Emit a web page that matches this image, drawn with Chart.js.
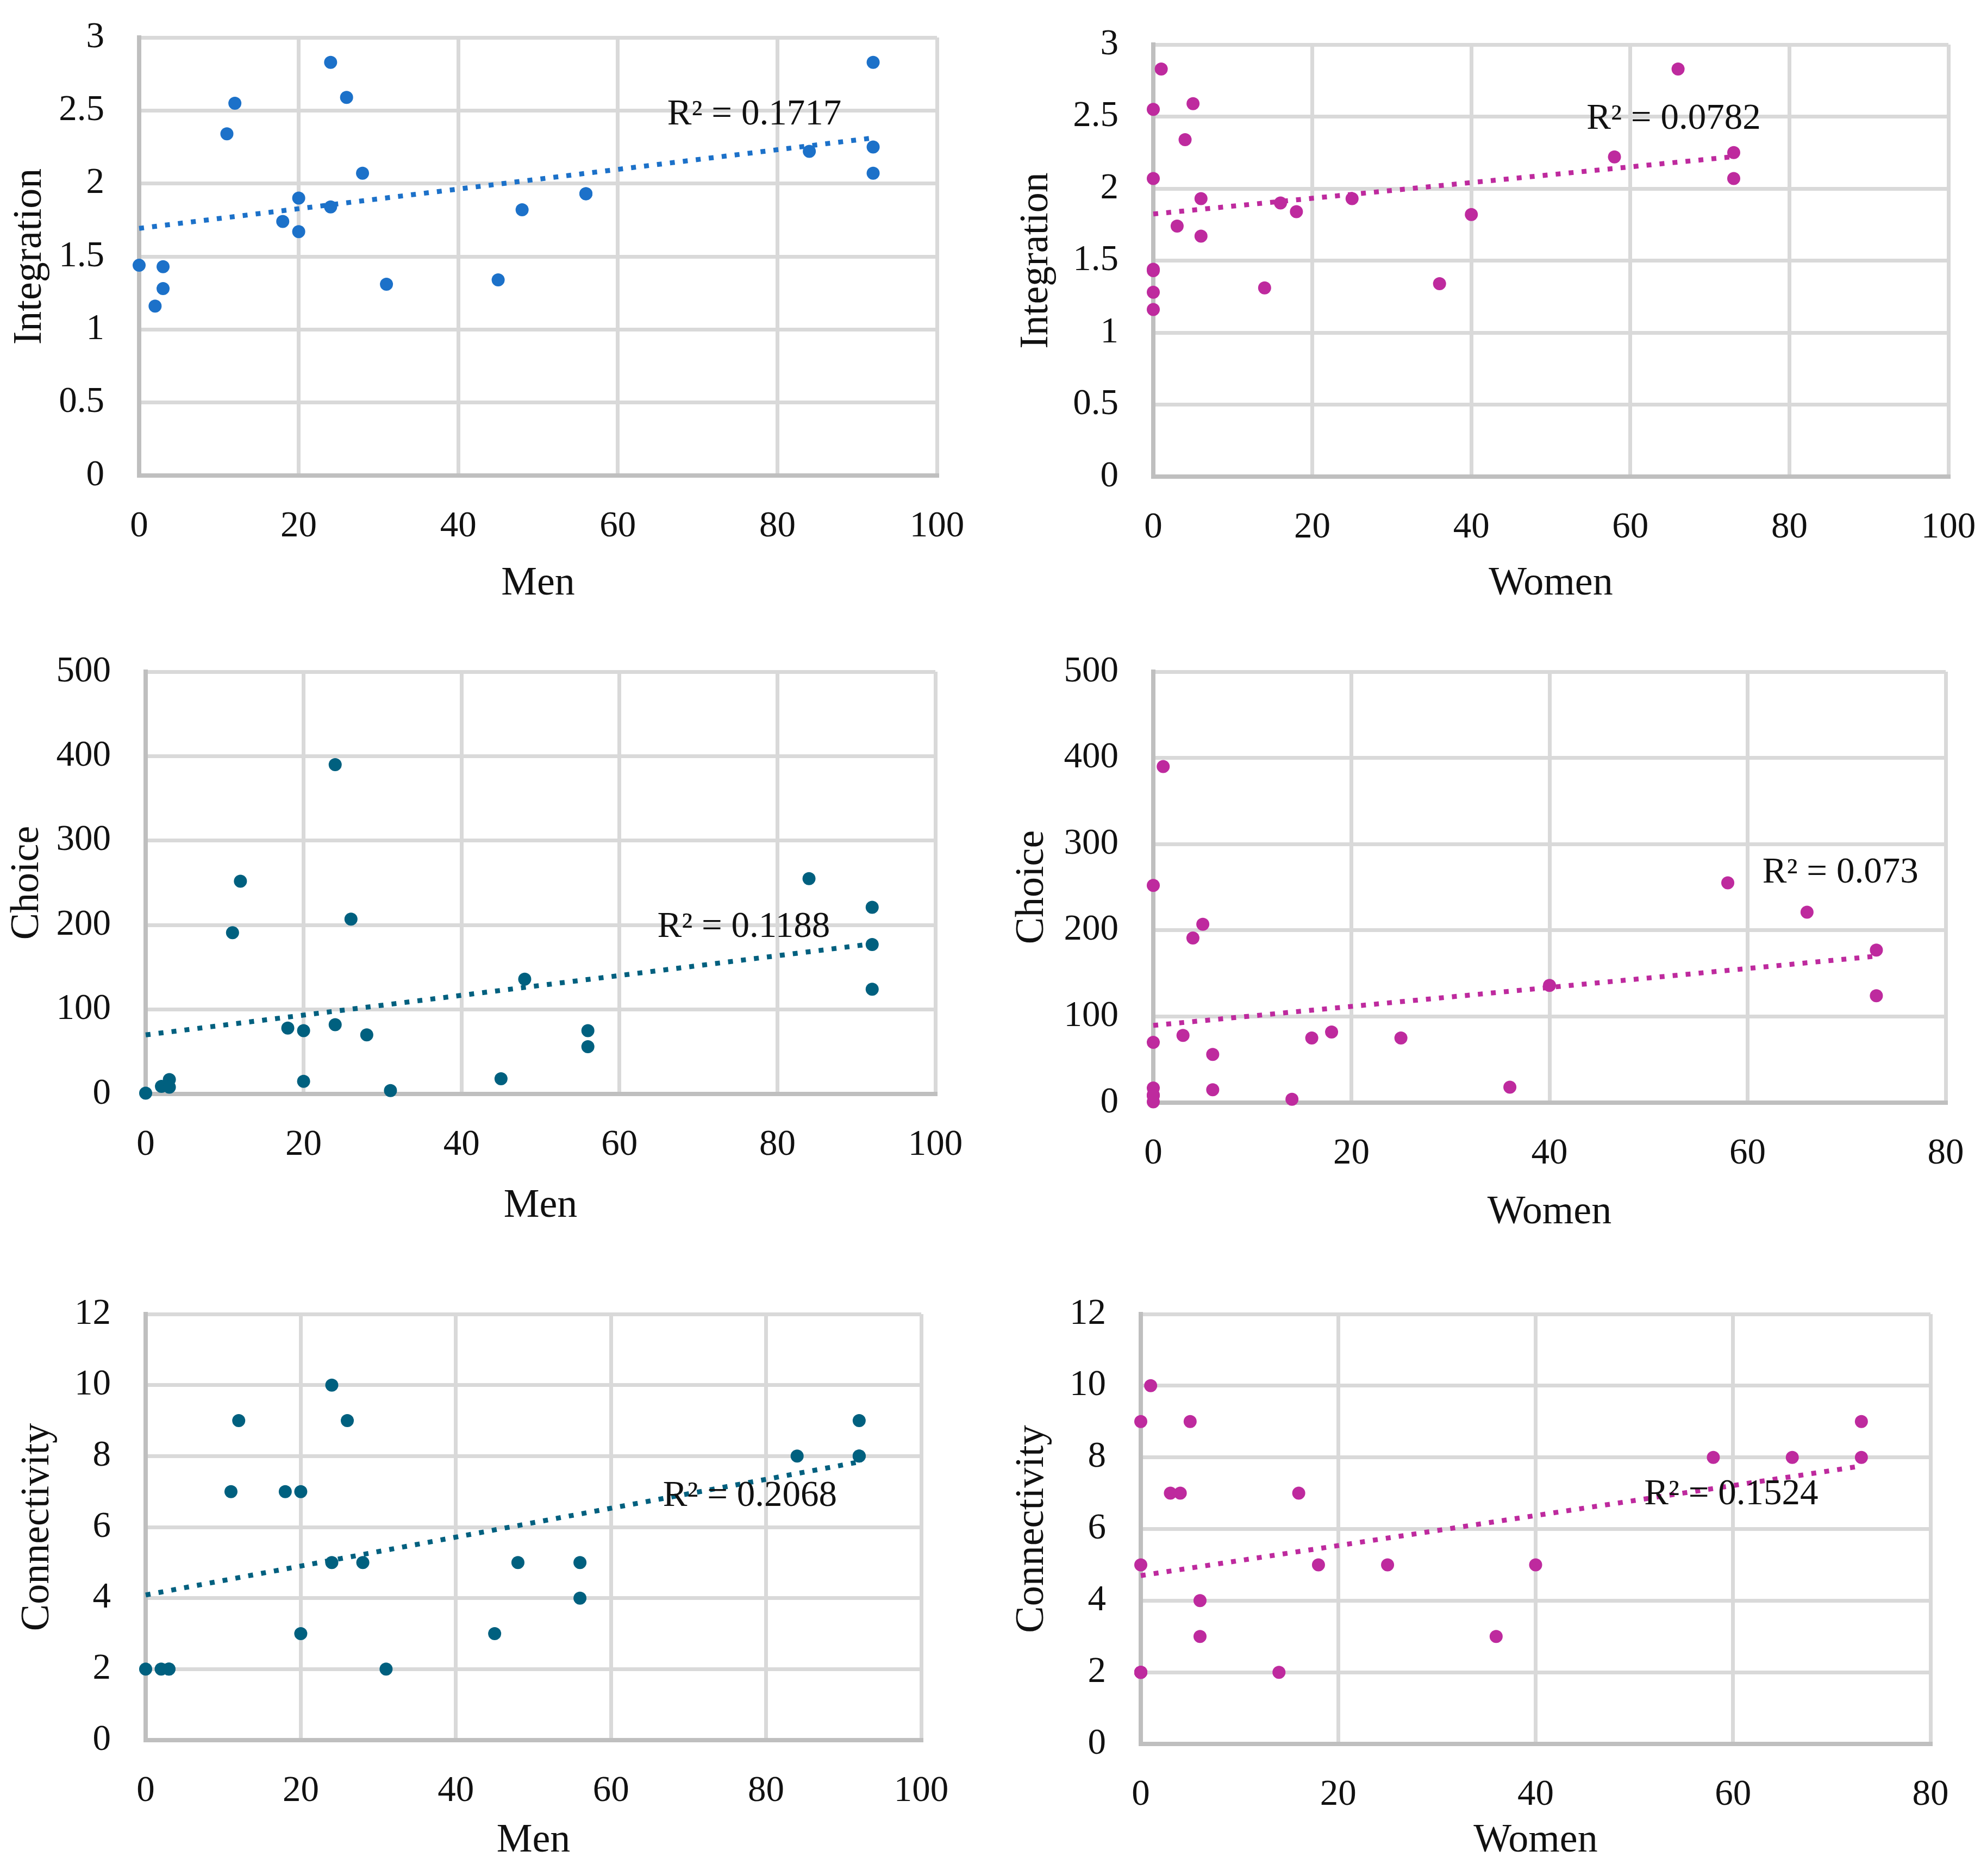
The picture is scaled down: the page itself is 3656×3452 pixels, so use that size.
<!DOCTYPE html>
<html>
<head>
<meta charset="utf-8">
<title>Space syntax measures vs. counts of men and women</title>
<script src="https://cdn.jsdelivr.net/npm/chart.js@4.4.1/dist/chart.umd.min.js"></script>
<style>
  html, body { margin: 0; padding: 0; background: #fff; }
  body { width: 3656px; height: 3452px; position: relative; overflow: hidden; }
  canvas { position: absolute; }
</style>
</head>
<body>
<canvas id="menIntegration"></canvas>
<canvas id="womenIntegration"></canvas>
<canvas id="menChoice"></canvas>
<canvas id="womenChoice"></canvas>
<canvas id="menConnectivity"></canvas>
<canvas id="womenConnectivity"></canvas>
<script>
const menCount     = [0, 2, 3, 3, 11, 12, 18, 20, 20, 24, 24, 26, 28, 31, 45, 48, 56, 56, 84, 92, 92, 92];
const womenCount   = [0, 0, 0, 0, 4, 0, 3, 16, 6, 1, 18, 5, 0, 14, 36, 40, 25, 6, 58, 66, 73, 73];
const integration  = [1.44, 1.16, 1.43, 1.28, 2.34, 2.55, 1.74, 1.90, 1.67, 2.83, 1.84, 2.59, 2.07, 1.31, 1.34, 1.82, 1.93, 1.93, 2.22, 2.83, 2.25, 2.07];
const choice       = [1, 9, 17, 8, 191, 252, 78, 75, 15, 390, 82, 207, 70, 4, 18, 136, 75, 56, 255, 221, 177, 124];
const connectivity = [2, 2, 2, 2, 7, 9, 7, 7, 3, 10, 5, 9, 5, 2, 3, 5, 5, 4, 8, 8, 9, 8];

// R² values printed next to the trendlines
const rSquared = ['0.1717', '0.0782', '0.1188', '0.073', '0.2068', '0.1524'];

// tick labels
const ticks100 = [0, 20, 40, 60, 80, 100];
const ticks80 = [0, 20, 40, 60, 80];
const integrationTicks = [0, 0.5, 1, 1.5, 2, 2.5, 3];
const choiceTicks = [0, 100, 200, 300, 400, 500];
const connectivityTicks = [0, 2, 4, 6, 8, 10, 12];

const BLUE = '#1C71C9';
const TEAL = '#00607F';
const MAGENTA = '#BE2A9E';
const GRID = '#D9D9D9';
const AXIS = '#BFBFBF';
const INK = '#111111';
const FONT = "'Liberation Serif', 'Times New Roman', serif";
const TICK_SIZE = 67;
const TITLE_SIZE = 74;

// least squares line, like the spreadsheet's linear trendline
function trendline(xs, ys) {
    const n = xs.length;
    const mx = xs.reduce((a, b) => a + b, 0) / n;
    const my = ys.reduce((a, b) => a + b, 0) / n;
    let sxy = 0, sxx = 0;
    for (let i = 0; i < n; i++) {
        sxy += (xs[i] - mx) * (ys[i] - my);
        sxx += (xs[i] - mx) * (xs[i] - mx);
    }
    const slope = sxy / sxx;
    const icpt = my - slope * mx;
    const lo = Math.min(...xs), hi = Math.max(...xs);
    return [{ x: lo, y: icpt + slope * lo }, { x: hi, y: icpt + slope * hi }];
}

const r2Label = {
    id: 'r2Label',
    afterDatasetsDraw(chart, args, opts) {
        const { ctx, scales: { x, y } } = chart;
        ctx.save();
        ctx.font = `${TICK_SIZE}px ${FONT}`;
        ctx.fillStyle = INK;
        ctx.textAlign = 'left';
        ctx.textBaseline = 'middle';
        ctx.fillText(`R² = ${opts.text}`, x.getPixelForValue(opts.at[0]), y.getPixelForValue(opts.at[1]));
        ctx.restore();
    }
};

// canvas box and plot box are [left, top, right, bottom] in page pixels
const panels = [
    { id: 'menIntegration', canvas: [0, 0, 1828, 1150], plot: [256, 69, 1724, 875],
      xs: menCount, ys: integration, xTicks: ticks100, yTicks: integrationTicks,
      color: BLUE, xTitle: 'Men', yTitle: 'Integration', r2: rSquared[0], labelAt: [66.2, 2.47],
      xTitleY: 1075, yTitleX: 56 },
    { id: 'womenIntegration', canvas: [1828, 0, 3656, 1150], plot: [2122, 82, 3585, 877],
      xs: womenCount, ys: integration, xTicks: ticks100, yTicks: integrationTicks,
      color: MAGENTA, xTitle: 'Women', yTitle: 'Integration', r2: rSquared[1], labelAt: [54.5, 2.48],
      xTitleY: 1075, yTitleX: 1908 },
    { id: 'menChoice', canvas: [0, 1150, 1828, 2330], plot: [268, 1236, 1721, 2013],
      xs: menCount, ys: choice, xTicks: ticks100, yTicks: choiceTicks,
      color: TEAL, xTitle: 'Men', yTitle: 'Choice', r2: rSquared[2], labelAt: [64.8, 197.6],
      xTitleY: 2220, yTitleX: 51 },
    { id: 'womenChoice', canvas: [1828, 1150, 3656, 2330], plot: [2122, 1236, 3580, 2029],
      xs: womenCount, ys: choice, xTicks: ticks80, yTicks: choiceTicks,
      color: MAGENTA, xTitle: 'Women', yTitle: 'Choice', r2: rSquared[3], labelAt: [61.5, 266.7],
      xTitleY: 2232, yTitleX: 1900 },
    { id: 'menConnectivity', canvas: [0, 2330, 1828, 3452], plot: [268, 2418, 1695, 3202],
      xs: menCount, ys: connectivity, xTicks: ticks100, yTicks: connectivityTicks,
      color: TEAL, xTitle: 'Men', yTitle: 'Connectivity', r2: rSquared[4], labelAt: [66.7, 6.87],
      xTitleY: 3388, yTitleX: 70 },
    { id: 'womenConnectivity', canvas: [1828, 2330, 3656, 3452], plot: [2099, 2418, 3552, 3209],
      xs: womenCount, ys: connectivity, xTicks: ticks80, yTicks: connectivityTicks,
      color: MAGENTA, xTitle: 'Women', yTitle: 'Connectivity', r2: rSquared[5], labelAt: [51.0, 6.95],
      xTitleY: 3388, yTitleX: 1900 }
];

function buildPanel(p) {
    const [cl, ct, cr, cb] = p.canvas;
    const [pl, pt, pr, pb] = p.plot;
    const el = document.getElementById(p.id);
    el.width = cr - cl;
    el.height = cb - ct;
    el.style.left = cl + 'px';
    el.style.top = ct + 'px';

    const tickFont = { family: FONT, size: TICK_SIZE };
    const titleFont = { family: FONT, size: TITLE_SIZE };
    const halfTitle = TITLE_SIZE * 1.2 / 2;

    new Chart(el, {
        type: 'scatter',
        data: {
            datasets: [
                {
                    label: 'points',
                    data: p.xs.map((x, i) => ({ x, y: p.ys[i] })),
                    backgroundColor: p.color,
                    borderWidth: 0,
                    pointRadius: 12,
                    pointHoverRadius: 12,
                    clip: false
                },
                {
                    label: 'trend',
                    data: trendline(p.xs, p.ys),
                    showLine: true,
                    borderColor: p.color,
                    borderWidth: 9,
                    borderDash: [9, 15],
                    borderCapStyle: 'butt',
                    pointRadius: 0,
                    fill: false,
                    clip: false
                }
            ]
        },
        options: {
            responsive: false,
            animation: false,
            events: [],
            layout: { padding: { left: 0, top: pt - ct, right: cr - pr, bottom: 0 } },
            plugins: {
                legend: { display: false },
                tooltip: { enabled: false },
                r2Label: { text: p.r2, at: p.labelAt }
            },
            scales: {
                x: {
                    type: 'linear',
                    position: 'bottom',
                    min: p.xTicks[0],
                    max: p.xTicks[p.xTicks.length - 1],
                    afterBuildTicks: s => { s.ticks = p.xTicks.map(value => ({ value })); },
                    // fixed box so the plot area lands where the reference has it
                    afterFit: s => { s.height = cb - pb; s.paddingLeft = 0; s.paddingRight = 0; },
                    grid: { color: GRID, lineWidth: 7, drawTicks: false },
                    border: { color: AXIS, width: 8 },
                    ticks: {
                        padding: 54, font: tickFont, color: INK,
                        maxRotation: 0, autoSkip: false,
                        callback: v => String(v)
                    },
                    title: {
                        display: true, text: p.xTitle, font: titleFont, color: INK,
                        padding: { top: 0, bottom: cb - p.xTitleY - halfTitle }
                    }
                },
                y: {
                    type: 'linear',
                    position: 'left',
                    min: p.yTicks[0],
                    max: p.yTicks[p.yTicks.length - 1],
                    afterBuildTicks: s => { s.ticks = p.yTicks.map(value => ({ value })); },
                    afterFit: s => { s.width = pl - cl; s.paddingTop = 0; s.paddingBottom = 0; },
                    grid: { color: GRID, lineWidth: 7, drawTicks: false },
                    border: { color: AXIS, width: 8 },
                    ticks: {
                        padding: 64, font: tickFont, color: INK,
                        autoSkip: false,
                        callback: v => String(v)
                    },
                    title: {
                        display: true, text: p.yTitle, font: titleFont, color: INK,
                        padding: { top: p.yTitleX - cl - halfTitle, bottom: 0 }
                    }
                }
            }
        },
        plugins: [r2Label]
    });
}

panels.forEach(buildPanel);
</script>
</body>
</html>
